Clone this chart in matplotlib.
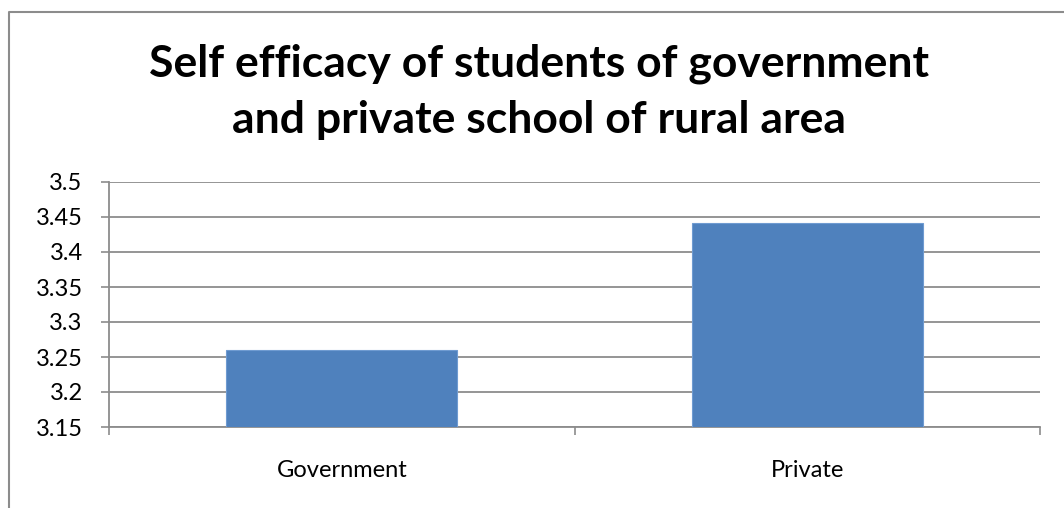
import matplotlib.pyplot as plt
from matplotlib.lines import Line2D

categorias = ["Government", "Private"]
valores = [3.26, 3.442]
ticks_y = [3.15, 3.2, 3.25, 3.3, 3.35, 3.4, 3.45, 3.5]
titulo = ["Self efficacy of students of government",
          "and private school of rural area"]

plt.rcParams["font.family"] = ["Lato", "DejaVu Sans"]

W, H = 1064, 508
fig = plt.figure(figsize=(W / 100, H / 100), dpi=100)
ax = fig.add_axes([109 / W, 1 - 427 / H, (1040 - 109) / W, (427 - 182) / H])

# borde del area del grafico (solo arriba e izquierda)
gris = "#8c8c8c"
fig.lines.append(Line2D([9 / W, 9 / W, 1], [0, 1 - 12 / H, 1 - 12 / H],
                        transform=fig.transFigure, color=gris, linewidth=1.5))

pos = [0.5, 1.5]
ax.bar(pos, valores, width=0.496, color="#4f81bd", edgecolor="#6f9bd1",
       linewidth=0.8, zorder=3)

ax.set_xlim(0, 2)
ax.set_ylim(3.15, 3.5)
ax.set_yticks(ticks_y)
ax.set_yticklabels([f"{t:g}" for t in ticks_y], fontsize=17)
ax.set_xticks([0, 1, 2])
ax.set_xticklabels([])
ax.set_xticks(pos, minor=True)
ax.set_xticklabels(categorias, minor=True, fontsize=17)
ax.tick_params(axis="x", which="minor", length=0, pad=24)
ax.tick_params(axis="x", which="major", length=6, color=gris, width=1.2,
               direction="out")
ax.tick_params(axis="y", length=6, color=gris, width=1.2, direction="out",
               pad=13)

ax.grid(axis="y", color=gris, linewidth=1.3, zorder=0)
for lado in ["top", "right"]:
    ax.spines[lado].set_visible(False)
for lado in ["left", "bottom"]:
    ax.spines[lado].set_color(gris)
    ax.spines[lado].set_linewidth(1.3)

for linea, base in zip(titulo, [77, 133]):
    fig.text(539 / W, 1 - base / H, linea, ha="center", va="baseline",
             fontsize=32, fontweight="bold")

fig.savefig("out.png", dpi=100)
